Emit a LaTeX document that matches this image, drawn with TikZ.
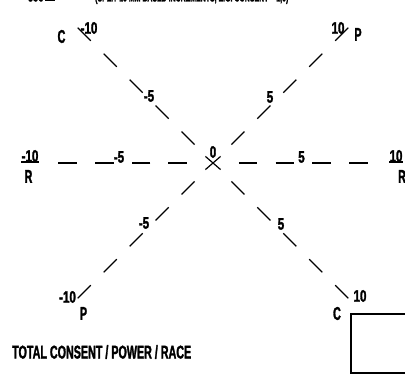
\documentclass[tikz,border=0pt]{standalone}
\usepackage{fontspec}
\setmainfont{Liberation Sans}[FakeStretch=0.58, FakeBold=1.5]
\newfontfamily\numfont{Liberation Sans}[FakeStretch=0.7, FakeBold=1.8]
\usetikzlibrary{shapes.misc}

\begin{document}
\begin{tikzpicture}[x=1pt, y=1pt,
            axis/.style={line width=1.2pt, dash pattern=on 18.5pt off 18.2pt},
            letter/.style={inner sep=0pt, font=\fontsize{18.5}{18.5}\selectfont\bfseries},
            num/.style={inner sep=0pt, font=\numfont\fontsize{16.5}{16.5}\selectfont\bfseries},
            note/.style={inner sep=0pt, font=\fontsize{12}{12}\selectfont\bfseries},
            tick/.style={line width=1.2pt}
        ]
            \useasboundingbox (-213,-211) rectangle (192,163);

            % centre
            \node[draw, cross out, line width=1.2pt, minimum width=14pt, minimum height=12pt, inner sep=0pt] (origin) at (0,0) {};
            \node[num] (zero) at (0,11) {0};

            % axes
            \coordinate (ul0) at (135:26);  \coordinate (ul) at (135:191.3);
            \coordinate (ur0) at (45:26);   \coordinate (ur) at (45:191.3);
            \coordinate (ll0) at (225:26);  \coordinate (ll) at (225:191.3);
            \coordinate (lr0) at (-45:26);  \coordinate (lr) at (-45:191.3);
            \coordinate (l0) at (180:26);   \coordinate (l) at (180:154.6);
            \coordinate (r0) at (0:26);     \coordinate (r) at (0:154.6);
            \draw[axis] (ul0)--(ul) (ur0)--(ur) (ll0)--(ll) (lr0)--(lr);
            \draw[axis] (l0)--(l) (r0)--(r);

            % horizontal axis labels
            \node[num, anchor=south] (lten) at (-183,1) {-10};
            \node[num, anchor=south] (rten) at (183,1) {10};
            \draw[tick] (lten.south west)--(lten.south east);
            \draw[tick] (rten.south west)--(rten.south east);
            \node[num] (lfive) at (-94,6) {-5};
            \node[num] (rfive) at (88.5,6) {5};
            \node[letter] (rl) at (-184.5,-13.5) {R};
            \node[letter, anchor=west] (rr) at (185,-13.5) {R};

            % diagonal labels
            \node[num] (ulten) at (-124,135) {-10};
            \node[letter] (ulc) at (-151.5,126.5) {C};
            \node[num] (urten) at (125,135) {10};
            \node[letter] (urp) at (145,128.5) {P};
            \node[num] (llten) at (-145.5,-134) {-10};
            \node[letter] (llp) at (-129.5,-150.5) {P};
            \node[num] (lrten) at (147,-133) {10};
            \node[letter] (lrc) at (124,-150.5) {C};
            \node[num] (ulfive) at (-64,67) {-5};
            \node[num] (urfive) at (57,66) {5};
            \node[num] (llfive) at (-69,-60) {-5};
            \node[num] (lrfive) at (68,-61) {5};

            % box and caption
            \node[draw, line width=2.2pt, anchor=north west, minimum width=70pt, minimum height=59pt, inner sep=0pt] (frame) at (137,-150) {};
            \node[letter, anchor=west] (caption) at (-201,-189) {TOTAL CONSENT / POWER / RACE};

            % clipped heading
            \node[note, anchor=base west] (headl) at (-185,161.5) {SOC \rule{10pt}{2pt}};
            \node[note, anchor=base west] (headr) at (-118,161.5) {(SPLIT 10 MM BASED INCREMENTS, E.G. CONSENT = 1,0)};
        \end{tikzpicture}
\end{document}
